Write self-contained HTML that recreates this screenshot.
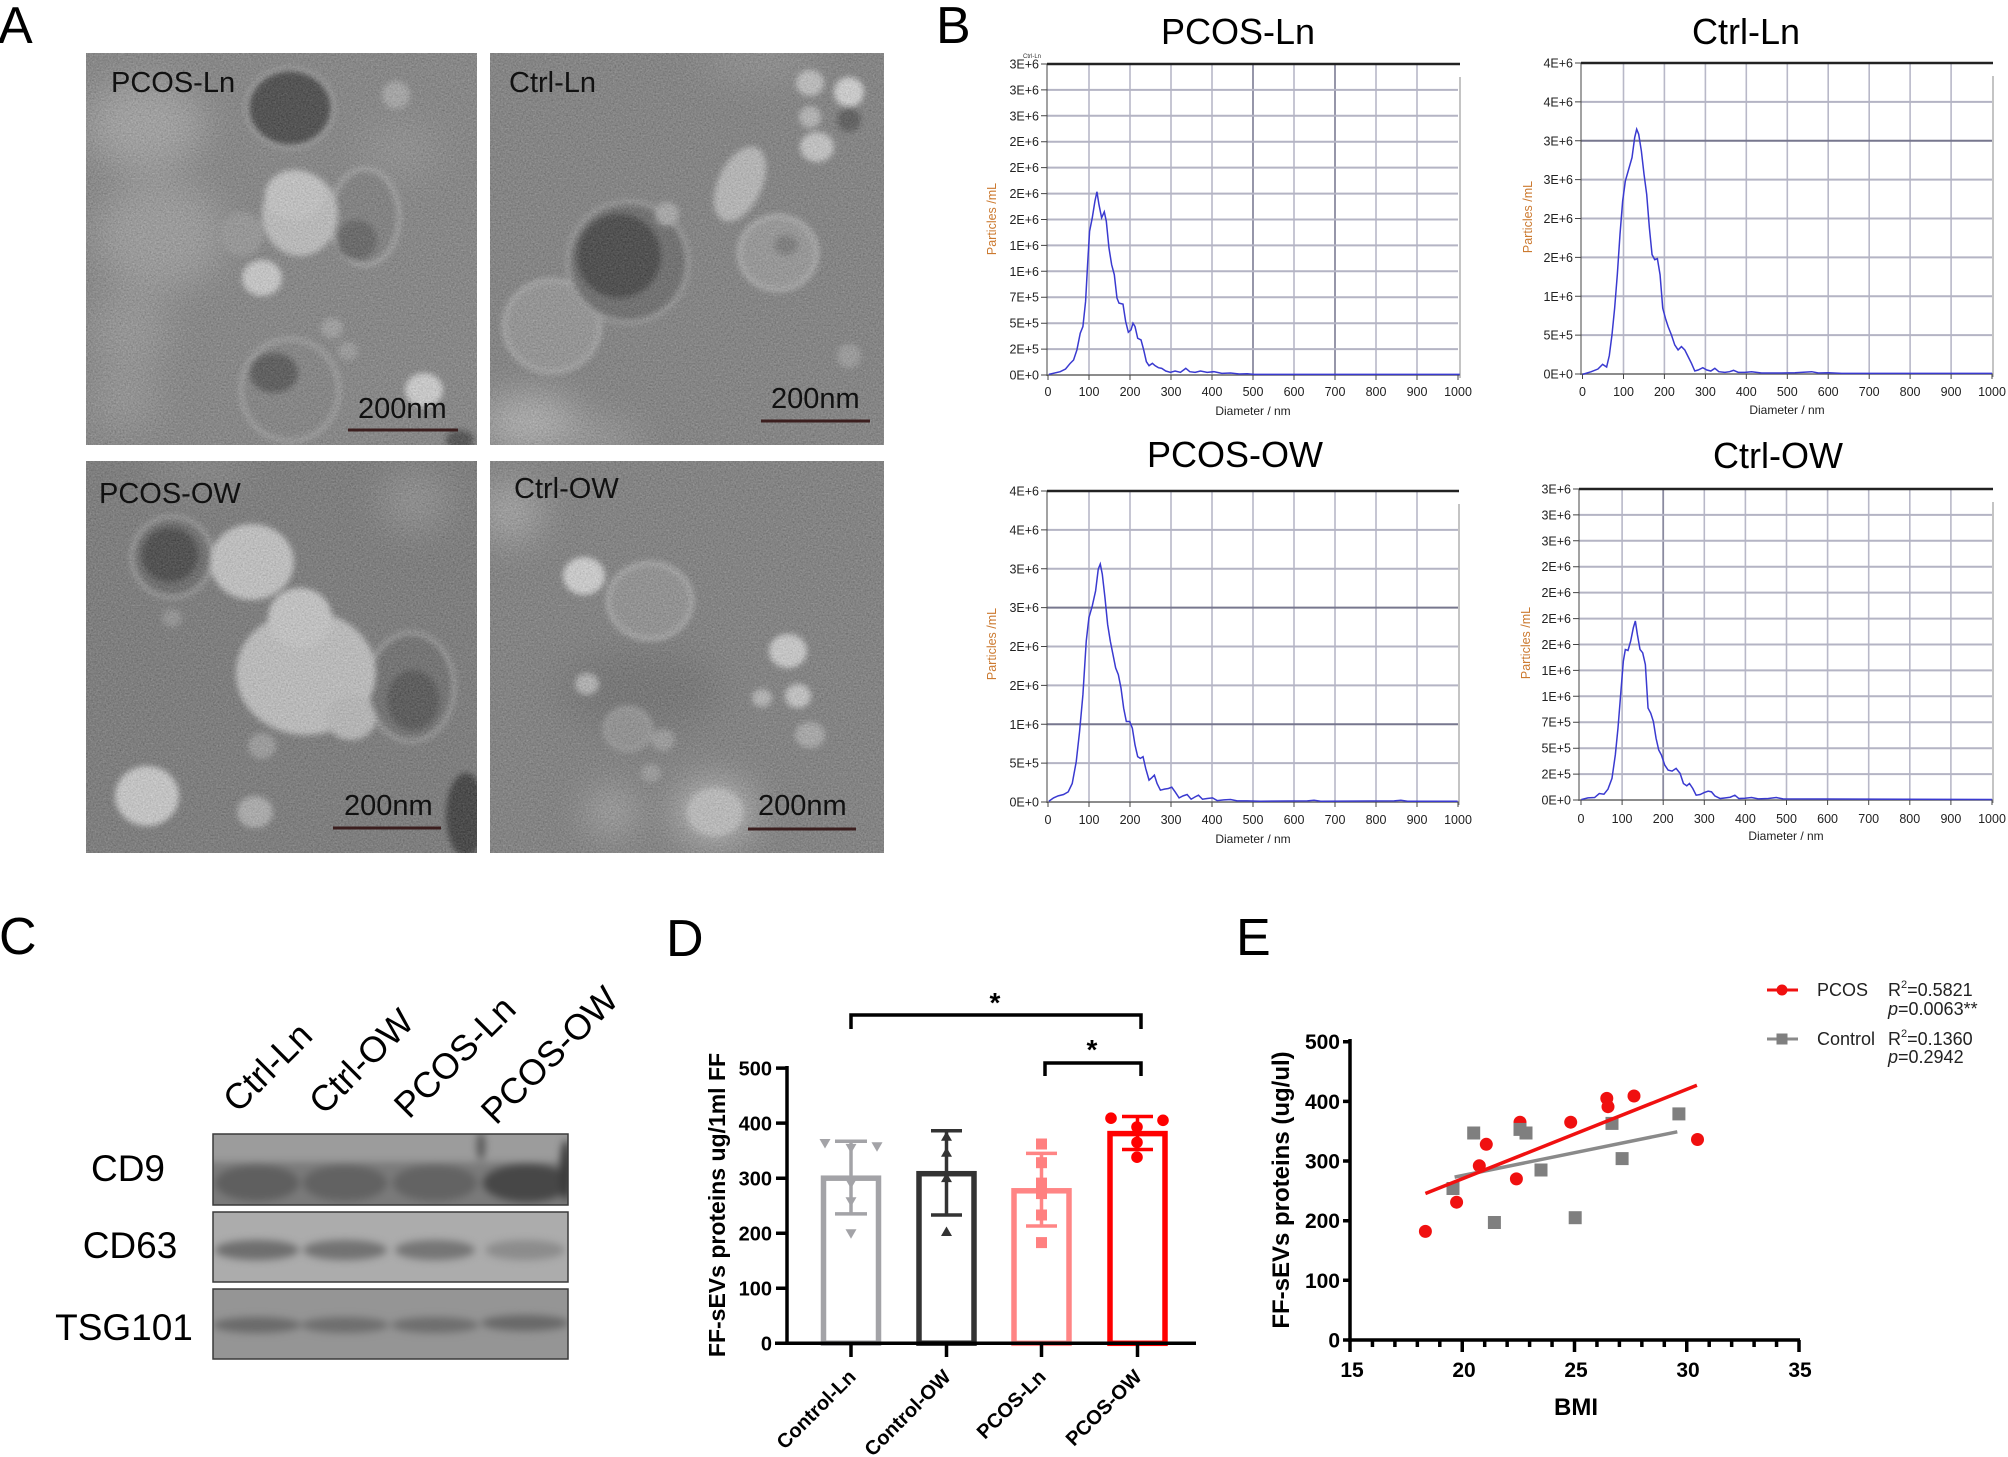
<!DOCTYPE html>
<html><head><meta charset="utf-8"><style>
html,body{margin:0;padding:0;background:#fff;}
svg{display:block;font-family:"Liberation Sans",Arial,sans-serif;}
</style></head><body>
<svg width="2008" height="1457" viewBox="0 0 2008 1457" xmlns="http://www.w3.org/2000/svg">
<defs>
<filter id="b2" x="-50%" y="-50%" width="200%" height="200%" color-interpolation-filters="sRGB"><feGaussianBlur stdDeviation="3"/></filter>
<filter id="b4" x="-50%" y="-50%" width="200%" height="200%" color-interpolation-filters="sRGB"><feGaussianBlur stdDeviation="4"/></filter>
<filter id="b18" x="-80%" y="-80%" width="260%" height="260%" color-interpolation-filters="sRGB"><feGaussianBlur stdDeviation="18"/></filter>
<filter id="grain" x="0" y="0" width="100%" height="100%" color-interpolation-filters="sRGB">
<feTurbulence type="fractalNoise" baseFrequency="0.6" numOctaves="2" seed="4"/>
<feColorMatrix type="matrix" values="0.33 0.33 0.33 0 0 0.33 0.33 0.33 0 0 0.33 0.33 0.33 0 0 0 0 0 0 0.35"/>
</filter>
<clipPath id="c1"><rect x="86" y="53" width="391" height="392"/></clipPath>
<clipPath id="c2"><rect x="490" y="53" width="394" height="392"/></clipPath>
<clipPath id="c3"><rect x="86" y="461" width="391" height="392"/></clipPath>
<clipPath id="c4"><rect x="490" y="461" width="394" height="392"/></clipPath>
<clipPath id="w1"><rect x="213" y="1134" width="355" height="71"/></clipPath>
<clipPath id="w2"><rect x="213" y="1212" width="355" height="70"/></clipPath>
<clipPath id="w3"><rect x="213" y="1289" width="355" height="70"/></clipPath>
</defs>

<!-- Panel letters -->
<g font-size="52" fill="#000">
<text x="-2" y="43">A</text>
<text x="936" y="43">B</text>
<text x="-1" y="954">C</text>
<text x="666" y="956">D</text>
<text x="1236" y="955">E</text>
</g>

<!-- ===== Panel A TEM images ===== -->
<g clip-path="url(#c1)">
<rect x="86" y="53" width="391" height="392" fill="#8c8c8c"/>
<g filter="url(#b18)">
<ellipse cx="145" cy="125" rx="60" ry="45" fill="#b2b2b2"/>
<ellipse cx="160" cy="235" rx="65" ry="55" fill="#aaaaaa"/>
<ellipse cx="130" cy="330" rx="40" ry="40" fill="#a2a2a2"/>
<ellipse cx="125" cy="400" rx="35" ry="30" fill="#a0a0a0"/>
<ellipse cx="400" cy="150" rx="40" ry="30" fill="#9a9a9a"/>
</g>
<g filter="url(#b2)">
<ellipse cx="290" cy="108" rx="45" ry="41" fill="#b6b6b6"/>
<ellipse cx="290" cy="108" rx="41" ry="37" fill="#3e3e3e"/>
<ellipse cx="365" cy="217" rx="36" ry="50" fill="#bdbdbd"/>
<ellipse cx="365" cy="217" rx="32" ry="46" fill="#858585"/>
<ellipse cx="357" cy="240" rx="20" ry="20" fill="#626262"/>
<ellipse cx="242" cy="234" rx="22" ry="22" fill="#a4a4a4"/>
<ellipse cx="300" cy="214" rx="38" ry="42" fill="#d6d6d6"/>
<ellipse cx="295" cy="195" rx="30" ry="25" fill="#e0e0e0"/>
<ellipse cx="262" cy="278" rx="20" ry="18" fill="#e6e6e6"/>
<ellipse cx="290" cy="390" rx="51" ry="53" fill="#b5b5b5"/>
<ellipse cx="290" cy="390" rx="47" ry="49" fill="#8a8a8a"/>
<ellipse cx="274" cy="373" rx="24" ry="20" fill="#525252"/>
<ellipse cx="332" cy="328" rx="11" ry="10" fill="#b0b0b0"/>
<ellipse cx="348" cy="351" rx="10" ry="9" fill="#aaaaaa"/>
<ellipse cx="424" cy="390" rx="19" ry="17" fill="#ececec"/>
<ellipse cx="396" cy="95" rx="14" ry="14" fill="#b8b8b8"/>
<ellipse cx="460" cy="440" rx="14" ry="10" fill="#444"/>
</g>
<rect x="86" y="53" width="391" height="392" filter="url(#grain)"/>
</g>

<g clip-path="url(#c2)">
<rect x="490" y="53" width="394" height="392" fill="#888888"/>
<g filter="url(#b18)">
<ellipse cx="530" cy="423" rx="50" ry="28" fill="#c4c4c4"/>
<ellipse cx="760" cy="60" rx="60" ry="20" fill="#9a9a9a"/>
<ellipse cx="600" cy="440" rx="40" ry="20" fill="#a5a5a5"/>
</g>
<g filter="url(#b2)">
<ellipse cx="552" cy="326" rx="50" ry="48" fill="#c0c0c0"/>
<ellipse cx="552" cy="326" rx="46" ry="44" fill="#a0a0a0"/>
<ellipse cx="628" cy="262" rx="62" ry="62" fill="#b0b0b0"/>
<ellipse cx="628" cy="262" rx="58" ry="58" fill="#6c6c6c"/>
<ellipse cx="619" cy="256" rx="42" ry="42" fill="#3a3a3a"/>
<ellipse cx="778" cy="253" rx="41" ry="39" fill="#c8c8c8"/>
<ellipse cx="778" cy="253" rx="37" ry="35" fill="#a4a4a4"/>
<ellipse cx="786" cy="245" rx="12" ry="10" fill="#808080"/>
<ellipse cx="740" cy="184" rx="22" ry="40" fill="#cfcfcf" transform="rotate(25 740 184)"/>
<ellipse cx="849" cy="92" rx="15" ry="15" fill="#f0f0f0"/>
<ellipse cx="810" cy="83" rx="14" ry="13" fill="#d8d8d8"/>
<ellipse cx="817" cy="147" rx="17" ry="15" fill="#e0e0e0"/>
<ellipse cx="810" cy="117" rx="11" ry="11" fill="#cccccc"/>
<ellipse cx="849" cy="120" rx="12" ry="12" fill="#555"/>
<ellipse cx="667" cy="214" rx="12" ry="12" fill="#bbbbbb"/>
<ellipse cx="849" cy="356" rx="12" ry="12" fill="#aaaaaa"/>
</g>
<rect x="490" y="53" width="394" height="392" filter="url(#grain)"/>
</g>

<g clip-path="url(#c3)">
<rect x="86" y="461" width="391" height="392" fill="#7e7e7e"/>
<g filter="url(#b18)">
<ellipse cx="415" cy="501" rx="35" ry="30" fill="#9a9a9a"/>
<ellipse cx="200" cy="470" rx="50" ry="20" fill="#8e8e8e"/>
</g>
<g filter="url(#b2)">
<ellipse cx="172" cy="557" rx="42" ry="42" fill="#b0b0b0"/>
<ellipse cx="172" cy="557" rx="38" ry="38" fill="#6a6a6a"/>
<ellipse cx="170" cy="555" rx="28" ry="27" fill="#3c3c3c"/>
<ellipse cx="252" cy="562" rx="42" ry="38" fill="#dedede"/>
<ellipse cx="411" cy="687" rx="45" ry="56" fill="#b0b0b0"/>
<ellipse cx="411" cy="687" rx="41" ry="52" fill="#707070"/>
<ellipse cx="413" cy="700" rx="26" ry="30" fill="#4e4e4e"/>
<ellipse cx="306" cy="673" rx="70" ry="62" fill="#d8d8d8"/>
<ellipse cx="300" cy="618" rx="32" ry="30" fill="#e2e2e2"/>
<ellipse cx="351" cy="718" rx="25" ry="22" fill="#d0d0d0"/>
<ellipse cx="147" cy="796" rx="32" ry="30" fill="#e6e6e6"/>
<ellipse cx="255" cy="812" rx="18" ry="16" fill="#c0c0c0"/>
<ellipse cx="262" cy="746" rx="14" ry="13" fill="#aaaaaa"/>
<ellipse cx="172" cy="618" rx="10" ry="9" fill="#a0a0a0"/>
<ellipse cx="466" cy="815" rx="20" ry="42" fill="#303030"/>
</g>
<rect x="86" y="461" width="391" height="392" filter="url(#grain)"/>
</g>

<g clip-path="url(#c4)">
<rect x="490" y="461" width="394" height="392" fill="#868686"/>
<g filter="url(#b18)">
<ellipse cx="510" cy="512" rx="32" ry="30" fill="#b5b5b5"/>
<ellipse cx="640" cy="690" rx="80" ry="40" fill="#747474"/>
<ellipse cx="715" cy="812" rx="40" ry="32" fill="#cccccc"/>
<ellipse cx="612" cy="812" rx="24" ry="22" fill="#b8b8b8"/>
</g>
<g filter="url(#b2)">
<ellipse cx="650" cy="601" rx="44" ry="40" fill="#c4c4c4"/>
<ellipse cx="650" cy="601" rx="40" ry="36" fill="#9c9c9c"/>
<ellipse cx="584" cy="576" rx="21" ry="19" fill="#eeeeee"/>
<ellipse cx="788" cy="651" rx="19" ry="17" fill="#e8e8e8"/>
<ellipse cx="798" cy="696" rx="13" ry="12" fill="#e0e0e0"/>
<ellipse cx="762" cy="698" rx="10" ry="9" fill="#cccccc"/>
<ellipse cx="587" cy="684" rx="12" ry="11" fill="#c8c8c8"/>
<ellipse cx="628" cy="729" rx="25" ry="23" fill="#b0b0b0"/>
<ellipse cx="628" cy="729" rx="22" ry="20" fill="#9c9c9c"/>
<ellipse cx="663" cy="740" rx="12" ry="11" fill="#aaaaaa"/>
<ellipse cx="651" cy="773" rx="10" ry="9" fill="#aaaaaa"/>
<ellipse cx="810" cy="735" rx="15" ry="13" fill="#bbbbbb"/>
<ellipse cx="715" cy="812" rx="28" ry="24" fill="#d6d6d6"/>
</g>
<rect x="490" y="461" width="394" height="392" filter="url(#grain)"/>
</g>

<g font-size="29" fill="#111">
<text x="111" y="92">PCOS-Ln</text>
<text x="509" y="92">Ctrl-Ln</text>
<text x="99" y="503">PCOS-OW</text>
<text x="514" y="498">Ctrl-OW</text>
<text x="358" y="418">200nm</text>
<text x="771" y="408">200nm</text>
<text x="344" y="815">200nm</text>
<text x="758" y="815">200nm</text>
</g>
<g stroke="#3b1e1e" stroke-width="3">
<path d="M348 430H458M761 421H870M333 828H441M748 829H856"/>
</g>

<!-- ===== Panel B ===== -->
<g font-size="36" fill="#000" text-anchor="middle">
<text x="1238" y="44">PCOS-Ln</text>
<text x="1746" y="44">Ctrl-Ln</text>
<text x="1235" y="467">PCOS-OW</text>
<text x="1778" y="468">Ctrl-OW</text>
</g>

<!-- Chart 1 -->
<g fill="none">
<path stroke="#b8b8c8" stroke-width="1.6" d="M1089 64V375M1130 64V375M1171 64V375M1212 64V375M1294 64V375M1376 64V375M1417 64V375"/>
<path stroke="#8a8aa0" stroke-width="1.8" d="M1253 64V375M1335 64V375"/>
<path stroke="#b4b4c4" stroke-width="2" d="M1047 349.1H1458M1047 323.2H1458M1047 297.2H1458M1047 271.3H1458M1047 245.4H1458M1047 219.5H1458M1047 193.6H1458M1047 167.6H1458M1047 141.7H1458M1047 115.8H1458M1047 89.9H1458"/>
<path stroke="#444" stroke-width="1" d="M1047 64V376"/>
<path stroke="#666" stroke-width="1.5" d="M1047 375H1460"/>
<path stroke="#222" stroke-width="2.5" d="M1047 64H1460"/>
<path stroke="#888" stroke-width="1" d="M1460 77V378"/>
<path stroke="#444" stroke-width="1" d="M1041 64H1047M1041 89.9H1047M1041 115.8H1047M1041 141.7H1047M1041 167.6H1047M1041 193.6H1047M1041 219.5H1047M1041 245.4H1047M1041 271.3H1047M1041 297.2H1047M1041 323.2H1047M1041 349.1H1047M1041 375H1047"/>
<path stroke="#444" stroke-width="1" d="M1048 375v5M1089 375v5M1130 375v5M1171 375v5M1212 375v5M1253 375v5M1294 375v5M1335 375v5M1376 375v5M1417 375v5M1458 375v5"/>
</g>
<g transform="translate(960,0.4) scale(0.668,0.3345)">
<polyline fill="none" stroke="#3a3ad0" stroke-width="1.5" vector-effect="non-scaling-stroke" points="133,1118 150,1110 158,1102 165,1085 170,1075 175,1045 180,995 184,975 188,900 191,790 194,690 198,650 202,600 205,572 208,610 212,650 216,632 219,660 223,740 227,790 231,820 235,890 238,905 244,908 248,960 252,992 256,985 259,965 262,975 266,1010 271,1015 275,1045 279,1080 283,1092 288,1085 292,1092 297,1098 302,1100 308,1108 315,1112 322,1108 330,1112 338,1100 344,1110 352,1112 360,1108 370,1112 380,1110 392,1115 405,1114 418,1117 430,1116 440,1118 500,1118 748,1118"/>
</g>
<g font-size="12.5" fill="#222" text-anchor="end">
<text x="1039" y="68.5">3E+6</text><text x="1039" y="94.4">3E+6</text><text x="1039" y="120.3">3E+6</text><text x="1039" y="146.2">2E+6</text><text x="1039" y="172.1">2E+6</text><text x="1039" y="198.1">2E+6</text><text x="1039" y="224">2E+6</text><text x="1039" y="249.9">1E+6</text><text x="1039" y="275.8">1E+6</text><text x="1039" y="301.7">7E+5</text><text x="1039" y="327.7">5E+5</text><text x="1039" y="353.6">2E+5</text><text x="1039" y="379.5">0E+0</text>
</g>
<g font-size="12.5" fill="#222" text-anchor="middle">
<text x="1048" y="396">0</text><text x="1089" y="396">100</text><text x="1130" y="396">200</text><text x="1171" y="396">300</text><text x="1212" y="396">400</text><text x="1253" y="396">500</text><text x="1294" y="396">600</text><text x="1335" y="396">700</text><text x="1376" y="396">800</text><text x="1417" y="396">900</text><text x="1458" y="396">1000</text>
<text x="1253" y="415" font-size="12">Diameter / nm</text>
</g>
<text x="1032" y="58" font-size="6" fill="#333" text-anchor="middle">Ctrl-Ln</text>
<text transform="translate(996,219) rotate(-90)" font-size="12.5" fill="#cc7a30" text-anchor="middle">Particles /mL</text>

<!-- Chart 2 -->
<g fill="none">
<path stroke="#b8b8c8" stroke-width="1.6" d="M1623.5 63V374M1664.4 63V374M1705.4 63V374M1746.3 63V374M1787.3 63V374M1828.2 63V374M1869.2 63V374M1910.1 63V374M1951.1 63V374"/>
<path stroke="#b4b4c4" stroke-width="2" d="M1581 335.1H1992M1581 296.3H1992M1581 257.4H1992M1581 218.5H1992M1581 179.6H1992M1581 101.9H1992"/>
<path stroke="#77778e" stroke-width="2" d="M1581 140.8H1992"/>
<path stroke="#444" stroke-width="1" d="M1581 63V375"/>
<path stroke="#666" stroke-width="1.5" d="M1581 374H1993"/>
<path stroke="#222" stroke-width="2.5" d="M1581 63H1993"/>
<path stroke="#888" stroke-width="1" d="M1993 76V377"/>
<path stroke="#444" stroke-width="1" d="M1575 63H1581M1575 101.9H1581M1575 140.8H1581M1575 179.6H1581M1575 218.5H1581M1575 257.4H1581M1575 296.3H1581M1575 335.1H1581M1575 374H1581"/>
<path stroke="#444" stroke-width="1" d="M1582.5 374v5M1623.5 374v5M1664.4 374v5M1705.4 374v5M1746.3 374v5M1787.3 374v5M1828.2 374v5M1869.2 374v5M1910.1 374v5M1951.1 374v5M1992 374v5"/>
</g>
<g transform="translate(960,0.4) scale(0.668,0.3345)">
<polyline fill="none" stroke="#3a3ad0" stroke-width="1.5" vector-effect="non-scaling-stroke" points="932,1118 945,1110 955,1102 962,1088 968,1096 972,1062 976,1000 980,920 984,820 988,700 992,600 996,540 1001,505 1006,470 1010,410 1013,385 1016,400 1020,450 1024,520 1028,580 1032,680 1036,760 1040,775 1044,772 1048,820 1052,920 1056,950 1060,975 1065,1000 1070,1030 1075,1045 1080,1035 1085,1045 1090,1065 1095,1085 1100,1108 1105,1105 1112,1098 1118,1105 1124,1108 1130,1100 1136,1110 1145,1112 1152,1110 1158,1106 1165,1112 1175,1112 1185,1110 1200,1114 1230,1114 1250,1113 1275,1110 1285,1114 1300,1113 1320,1115 1545,1115"/>
</g>
<g font-size="12.5" fill="#222" text-anchor="end">
<text x="1573" y="67.5">4E+6</text><text x="1573" y="106.4">4E+6</text><text x="1573" y="145.3">3E+6</text><text x="1573" y="184.1">3E+6</text><text x="1573" y="223">2E+6</text><text x="1573" y="261.9">2E+6</text><text x="1573" y="300.8">1E+6</text><text x="1573" y="339.6">5E+5</text><text x="1573" y="378.5">0E+0</text>
</g>
<g font-size="12.5" fill="#222" text-anchor="middle">
<text x="1582.5" y="396">0</text><text x="1623.5" y="396">100</text><text x="1664.4" y="396">200</text><text x="1705.4" y="396">300</text><text x="1746.3" y="396">400</text><text x="1787.3" y="396">500</text><text x="1828.2" y="396">600</text><text x="1869.2" y="396">700</text><text x="1910.1" y="396">800</text><text x="1951.1" y="396">900</text><text x="1992" y="396">1000</text>
<text x="1787" y="414" font-size="12">Diameter / nm</text>
</g>
<text transform="translate(1532,217) rotate(-90)" font-size="12.5" fill="#cc7a30" text-anchor="middle">Particles /mL</text>

<!-- Chart 3 -->
<g fill="none">
<path stroke="#b8b8c8" stroke-width="1.6" d="M1089 491V802M1130 491V802M1171 491V802M1212 491V802M1253 491V802M1294 491V802M1335 491V802M1376 491V802M1417 491V802"/>
<path stroke="#b4b4c4" stroke-width="2" d="M1047 763.1H1458M1047 685.4H1458M1047 646.5H1458M1047 568.8H1458M1047 529.9H1458"/>
<path stroke="#77778e" stroke-width="2" d="M1047 607.6H1458M1047 724.3H1458"/>
<path stroke="#444" stroke-width="1" d="M1047 491V803"/>
<path stroke="#666" stroke-width="1.5" d="M1047 802H1459"/>
<path stroke="#222" stroke-width="2.5" d="M1047 491H1459"/>
<path stroke="#888" stroke-width="1" d="M1459 504V805"/>
<path stroke="#444" stroke-width="1" d="M1041 491H1047M1041 529.9H1047M1041 568.8H1047M1041 607.6H1047M1041 646.5H1047M1041 685.4H1047M1041 724.3H1047M1041 763.1H1047M1041 802H1047"/>
<path stroke="#444" stroke-width="1" d="M1048 802v5M1089 802v5M1130 802v5M1171 802v5M1212 802v5M1253 802v5M1294 802v5M1335 802v5M1376 802v5M1417 802v5M1458 802v5"/>
</g>
<g transform="translate(960,420) scale(0.668,0.335)">
<polyline fill="none" stroke="#3a3ad0" stroke-width="1.5" vector-effect="non-scaling-stroke" points="133,1138 140,1128 147,1122 155,1118 162,1110 168,1085 174,1020 179,930 184,820 189,660 193,590 198,555 203,510 207,445 210,430 213,460 217,530 221,610 225,660 229,700 233,740 237,760 241,800 245,860 249,900 254,900 258,920 262,970 266,1005 270,1010 274,1005 278,1040 283,1075 287,1068 291,1060 295,1085 300,1105 306,1102 312,1100 317,1096 322,1110 328,1128 334,1122 340,1118 346,1132 352,1125 357,1120 363,1132 370,1130 378,1128 385,1136 395,1134 405,1133 415,1137 430,1137 450,1138 520,1137 530,1135 540,1138 650,1137 660,1135 670,1138 745,1138"/>
</g>
<g font-size="12.5" fill="#222" text-anchor="end">
<text x="1039" y="495.5">4E+6</text><text x="1039" y="534.4">4E+6</text><text x="1039" y="573.3">3E+6</text><text x="1039" y="612.1">3E+6</text><text x="1039" y="651">2E+6</text><text x="1039" y="689.9">2E+6</text><text x="1039" y="728.8">1E+6</text><text x="1039" y="767.6">5E+5</text><text x="1039" y="806.5">0E+0</text>
</g>
<g font-size="12.5" fill="#222" text-anchor="middle">
<text x="1048" y="824">0</text><text x="1089" y="824">100</text><text x="1130" y="824">200</text><text x="1171" y="824">300</text><text x="1212" y="824">400</text><text x="1253" y="824">500</text><text x="1294" y="824">600</text><text x="1335" y="824">700</text><text x="1376" y="824">800</text><text x="1417" y="824">900</text><text x="1458" y="824">1000</text>
<text x="1253" y="843" font-size="12">Diameter / nm</text>
</g>
<text transform="translate(996,644) rotate(-90)" font-size="12.5" fill="#cc7a30" text-anchor="middle">Particles /mL</text>

<!-- Chart 4 -->
<g fill="none">
<path stroke="#b8b8c8" stroke-width="1.6" d="M1622.1 489V800M1704.3 489V800M1745.4 489V800M1786.5 489V800M1827.6 489V800M1868.7 489V800M1909.8 489V800M1950.9 489V800"/>
<path stroke="#8a8aa0" stroke-width="1.8" d="M1663.2 489V800"/>
<path stroke="#b4b4c4" stroke-width="2" d="M1579 774.1H1992M1579 748.2H1992M1579 722.2H1992M1579 696.3H1992M1579 670.4H1992M1579 644.5H1992M1579 618.6H1992M1579 592.6H1992M1579 566.7H1992M1579 540.8H1992M1579 514.9H1992"/>
<path stroke="#444" stroke-width="1" d="M1579 489V801"/>
<path stroke="#666" stroke-width="1.5" d="M1579 800H1993"/>
<path stroke="#222" stroke-width="2.5" d="M1579 489H1993"/>
<path stroke="#888" stroke-width="1" d="M1993 502V803"/>
<path stroke="#444" stroke-width="1" d="M1573 489H1579M1573 514.9H1579M1573 540.8H1579M1573 566.7H1579M1573 592.6H1579M1573 618.6H1579M1573 644.5H1579M1573 670.4H1579M1573 696.3H1579M1573 722.2H1579M1573 748.2H1579M1573 774.1H1579M1573 800H1579"/>
<path stroke="#444" stroke-width="1" d="M1581 800v5M1622.1 800v5M1663.2 800v5M1704.3 800v5M1745.4 800v5M1786.5 800v5M1827.6 800v5M1868.7 800v5M1909.8 800v5M1950.9 800v5M1992 800v5"/>
</g>
<g transform="translate(960,420) scale(0.668,0.335)">
<polyline fill="none" stroke="#3a3ad0" stroke-width="1.5" vector-effect="non-scaling-stroke" points="930,1133 940,1128 950,1127 957,1115 964,1117 970,1102 976,1070 981,1000 985,920 989,820 993,720 996,685 1000,688 1004,660 1008,620 1011,600 1014,640 1018,685 1022,695 1026,730 1030,860 1034,875 1038,900 1042,950 1046,985 1050,1000 1055,1030 1060,1045 1066,1048 1072,1040 1078,1055 1083,1085 1088,1092 1092,1085 1097,1100 1102,1120 1108,1118 1114,1112 1120,1108 1125,1110 1130,1122 1138,1130 1146,1128 1153,1126 1160,1120 1166,1130 1175,1129 1185,1127 1195,1131 1210,1130 1222,1127 1232,1131 1545,1133"/>
</g>
<g font-size="12.5" fill="#222" text-anchor="end">
<text x="1571" y="493.5">3E+6</text><text x="1571" y="519.4">3E+6</text><text x="1571" y="545.3">3E+6</text><text x="1571" y="571.2">2E+6</text><text x="1571" y="597.1">2E+6</text><text x="1571" y="623.1">2E+6</text><text x="1571" y="649">2E+6</text><text x="1571" y="674.9">1E+6</text><text x="1571" y="700.8">1E+6</text><text x="1571" y="726.7">7E+5</text><text x="1571" y="752.7">5E+5</text><text x="1571" y="778.6">2E+5</text><text x="1571" y="804.5">0E+0</text>
</g>
<g font-size="12.5" fill="#222" text-anchor="middle">
<text x="1581" y="823">0</text><text x="1622.1" y="823">100</text><text x="1663.2" y="823">200</text><text x="1704.3" y="823">300</text><text x="1745.4" y="823">400</text><text x="1786.5" y="823">500</text><text x="1827.6" y="823">600</text><text x="1868.7" y="823">700</text><text x="1909.8" y="823">800</text><text x="1950.9" y="823">900</text><text x="1992" y="823">1000</text>
<text x="1786" y="840" font-size="12">Diameter / nm</text>
</g>
<text transform="translate(1530,643) rotate(-90)" font-size="12.5" fill="#cc7a30" text-anchor="middle">Particles /mL</text>

<!-- ===== Panel C Western blots ===== -->
<g font-size="36" fill="#000">
<text transform="translate(238,1114) rotate(-45)">Ctrl-Ln</text>
<text transform="translate(324,1116) rotate(-45)">Ctrl-OW</text>
<text transform="translate(409,1120) rotate(-45)">PCOS-Ln</text>
<text transform="translate(496,1126) rotate(-45)">PCOS-OW</text>
</g>
<g font-size="37" fill="#000" text-anchor="middle">
<text x="128" y="1181">CD9</text>
<text x="130" y="1258">CD63</text>
<text x="124" y="1340">TSG101</text>
</g>
<g clip-path="url(#w1)">
<rect x="213" y="1134" width="355" height="71" fill="#9c9c9c"/>
<g filter="url(#b4)">
<rect x="205" y="1162" width="370" height="50" fill="#7a7a7a"/>
<ellipse cx="257" cy="1183" rx="42" ry="18" fill="#5f5f5f"/>
<ellipse cx="345" cy="1183" rx="42" ry="18" fill="#626262"/>
<ellipse cx="435" cy="1183" rx="42" ry="18" fill="#636363"/>
<ellipse cx="527" cy="1183" rx="44" ry="19" fill="#474747"/>
<ellipse cx="481" cy="1146" rx="4" ry="14" fill="#555"/>
<ellipse cx="566" cy="1170" rx="6" ry="30" fill="#3a3a3a"/>
</g>
</g>
<rect x="213" y="1134" width="355" height="71" fill="none" stroke="#3a3a3a" stroke-width="1.5"/>
<g clip-path="url(#w2)">
<rect x="213" y="1212" width="355" height="70" fill="#acacac"/>
<g filter="url(#b4)">
<ellipse cx="257" cy="1250" rx="42" ry="10" fill="#6e6e6e"/>
<ellipse cx="345" cy="1250" rx="42" ry="10" fill="#727272"/>
<ellipse cx="435" cy="1250" rx="40" ry="10" fill="#757575"/>
<ellipse cx="525" cy="1250" rx="40" ry="10" fill="#8c8c8c"/>
</g>
</g>
<rect x="213" y="1212" width="355" height="70" fill="none" stroke="#3a3a3a" stroke-width="1.5"/>
<g clip-path="url(#w3)">
<rect x="213" y="1289" width="355" height="70" fill="#959595"/>
<g filter="url(#b4)">
<ellipse cx="257" cy="1325" rx="44" ry="8" fill="#6a6a6a"/>
<ellipse cx="345" cy="1325" rx="44" ry="8" fill="#6e6e6e"/>
<ellipse cx="435" cy="1325" rx="44" ry="8" fill="#6e6e6e"/>
<ellipse cx="525" cy="1323" rx="44" ry="8" fill="#686868"/>
</g>
</g>
<rect x="213" y="1289" width="355" height="70" fill="none" stroke="#3a3a3a" stroke-width="1.5"/>

<!-- ===== Panel D bar chart ===== -->
<g fill="none" stroke-linecap="butt">
<rect x="823.5" y="1178.2" width="55" height="165" stroke="#a3a3a7" stroke-width="5.5" fill="#fff"/>
<rect x="919" y="1173.7" width="55" height="169.5" stroke="#333" stroke-width="5.5" fill="#fff"/>
<rect x="1014" y="1190.8" width="55" height="152.5" stroke="#ff8585" stroke-width="5.5" fill="#fff"/>
<rect x="1110" y="1133.6" width="55" height="209.7" stroke="#ff0000" stroke-width="5.5" fill="#fff"/>
<path stroke="#a3a3a7" stroke-width="3.5" d="M851 1213.9V1141.3M835 1213.9H867M835 1141.3H867"/>
<path stroke="#333" stroke-width="3.5" d="M946.5 1215V1130.8M931 1215H962M931 1130.8H962"/>
<path stroke="#ff8585" stroke-width="3.5" d="M1041.5 1226V1153.4M1026 1226H1057M1026 1153.4H1057"/>
<path stroke="#ff0000" stroke-width="3.5" d="M1137.5 1149.5V1116.5M1122 1149.5H1153M1122 1116.5H1153"/>
<path stroke="#000" stroke-width="3.5" d="M787 1066V1345M775 1343.3H1196M776 1343.3H787M776 1288.3H787M776 1233.2H787M776 1178.2H787M776 1123.1H787M776 1068.1H787M851 1343V1357M946.5 1343V1357M1041.5 1343V1357M1137.5 1343V1357"/>
<path stroke="#000" stroke-width="3.5" d="M851 1029V1015H1141V1029M1045 1076V1063H1141V1076"/>
</g>
<g fill="#a3a3a7">
<polygon points="819.5,1139 830.5,1139 825,1148.5"/>
<polygon points="845.5,1143.9 856.5,1143.9 851,1153.4"/>
<polygon points="871.5,1142.3 882.5,1142.3 877,1151.8"/>
<polygon points="845.5,1179.2 856.5,1179.2 851,1188.7"/>
<polygon points="845.5,1197.3 856.5,1197.3 851,1206.8"/>
<polygon points="845.5,1229.2 856.5,1229.2 851,1238.7"/>
</g>
<g fill="#333">
<polygon points="941,1140.8 952,1140.8 946.5,1131.3"/>
<polygon points="941,1156.8 952,1156.8 946.5,1147.3"/>
<polygon points="941,1182.1 952,1182.1 946.5,1172.6"/>
<polygon points="941,1236 952,1236 946.5,1226.5"/>
</g>
<g fill="#ff8080">
<rect x="1036" y="1138.5" width="11" height="11"/>
<rect x="1036" y="1157.2" width="11" height="11"/>
<rect x="1036" y="1177.6" width="11" height="11"/>
<rect x="1036" y="1188.1" width="11" height="11"/>
<rect x="1036" y="1209.5" width="11" height="11"/>
<rect x="1036" y="1237.1" width="11" height="11"/>
</g>
<g fill="#ff0000">
<circle cx="1111" cy="1118.2" r="5.8"/>
<circle cx="1163" cy="1120.3" r="5.8"/>
<circle cx="1137" cy="1127" r="5.8"/>
<circle cx="1137" cy="1142.4" r="5.8"/>
<circle cx="1137" cy="1157.2" r="5.8"/>
</g>
<g font-size="28" font-weight="bold" fill="#000" text-anchor="middle">
<text x="995" y="1012">*</text>
<text x="1092" y="1059">*</text>
</g>
<g font-size="20" font-weight="bold" fill="#000" text-anchor="end">
<text x="772" y="1350.5">0</text>
<text x="772" y="1295.5">100</text>
<text x="772" y="1240.4">200</text>
<text x="772" y="1185.4">300</text>
<text x="772" y="1130.3">400</text>
<text x="772" y="1075.3">500</text>
</g>
<text transform="translate(725,1205) rotate(-90)" font-size="23" font-weight="bold" fill="#000" text-anchor="middle">FF-sEVs proteins ug/1ml FF</text>
<g font-size="20" font-weight="bold" fill="#000" text-anchor="end">
<text transform="translate(857,1378) rotate(-45)">Control-Ln</text>
<text transform="translate(952,1378) rotate(-45)">Control-OW</text>
<text transform="translate(1047,1378) rotate(-45)">PCOS-Ln</text>
<text transform="translate(1143,1378) rotate(-45)">PCOS-OW</text>
</g>

<!-- ===== Panel E scatter ===== -->
<g fill="none" stroke="#000" stroke-width="3.5">
<path d="M1350 1039V1342M1348 1340H1800"/>
<path d="M1343 1340H1350M1343 1280.3H1350M1343 1220.7H1350M1343 1161H1350M1343 1101.4H1350M1343 1041.7H1350"/>
<path d="M1350 1340v12M1462.25 1340v12M1574.5 1340v12M1686.75 1340v12M1799 1340v12"/>
<path d="M1372.45 1340v7M1394.9 1340v7M1417.35 1340v7M1439.8 1340v7M1484.7 1340v7M1507.15 1340v7M1529.6 1340v7M1552.05 1340v7M1596.95 1340v7M1619.4 1340v7M1641.85 1340v7M1664.3 1340v7M1709.2 1340v7M1731.65 1340v7M1754.1 1340v7M1776.55 1340v7"/>
</g>
<g font-size="21" font-weight="bold" fill="#000" text-anchor="end">
<text x="1340" y="1347.5">0</text>
<text x="1340" y="1287.8">100</text>
<text x="1340" y="1228.2">200</text>
<text x="1340" y="1168.5">300</text>
<text x="1340" y="1108.9">400</text>
<text x="1340" y="1049.2">500</text>
</g>
<g font-size="21" font-weight="bold" fill="#000" text-anchor="middle">
<text x="1352" y="1377">15</text>
<text x="1464" y="1377">20</text>
<text x="1576" y="1377">25</text>
<text x="1688" y="1377">30</text>
<text x="1800" y="1377">35</text>
<text x="1576" y="1415" font-size="24">BMI</text>
</g>
<text transform="translate(1289,1190) rotate(-90)" font-size="24" font-weight="bold" fill="#000" text-anchor="middle">FF-sEVs proteins (ug/ul)</text>
<g fill="#f01010">
<circle cx="1425.4" cy="1231.4" r="6.5"/>
<circle cx="1456.6" cy="1202.2" r="6.5"/>
<circle cx="1479.3" cy="1165.8" r="6.5"/>
<circle cx="1486.3" cy="1144.3" r="6.5"/>
<circle cx="1520" cy="1122.2" r="6.5"/>
<circle cx="1516.4" cy="1178.9" r="6.5"/>
<circle cx="1570.7" cy="1122.2" r="6.5"/>
<circle cx="1606.8" cy="1098.4" r="6.5"/>
<circle cx="1608" cy="1106.7" r="6.5"/>
<circle cx="1634" cy="1096" r="6.5"/>
<circle cx="1697.5" cy="1139.5" r="6.5"/>
</g>
<g fill="#7f7f7f">
<rect x="1446.5" y="1182" width="13" height="13"/>
<rect x="1467.2" y="1126.5" width="13" height="13"/>
<rect x="1487.9" y="1216" width="13" height="13"/>
<rect x="1513.5" y="1122.9" width="13" height="13"/>
<rect x="1519.5" y="1126.5" width="13" height="13"/>
<rect x="1534.5" y="1163.5" width="13" height="13"/>
<rect x="1568.7" y="1211.2" width="13" height="13"/>
<rect x="1605.5" y="1116.9" width="13" height="13"/>
<rect x="1615.6" y="1152.1" width="13" height="13"/>
<rect x="1672.4" y="1107.4" width="13" height="13"/>
</g>
<path d="M1454.6 1177.1L1677.3 1131.8" stroke="#8a8a8a" stroke-width="3.5"/>
<path d="M1425.4 1193.5L1696.9 1085.3" stroke="#f01010" stroke-width="3.5"/>

<!-- Legend -->
<path d="M1767 990H1798" stroke="#f01010" stroke-width="3"/>
<circle cx="1782" cy="990" r="5.5" fill="#f01010"/>
<path d="M1767 1039H1798" stroke="#8a8a8a" stroke-width="3"/>
<rect x="1776.5" y="1033.5" width="11" height="11" fill="#7f7f7f"/>
<g font-size="18" fill="#222">
<text x="1817" y="996">PCOS</text>
<text x="1888" y="996">R<tspan font-size="11" dy="-8">2</tspan><tspan dy="8">=0.5821</tspan></text>
<text x="1888" y="1015"><tspan font-style="italic">p</tspan>=0.0063**</text>
<text x="1817" y="1045">Control</text>
<text x="1888" y="1045">R<tspan font-size="11" dy="-8">2</tspan><tspan dy="8">=0.1360</tspan></text>
<text x="1888" y="1063"><tspan font-style="italic">p</tspan>=0.2942</text>
</g>
</svg>
</body></html>
